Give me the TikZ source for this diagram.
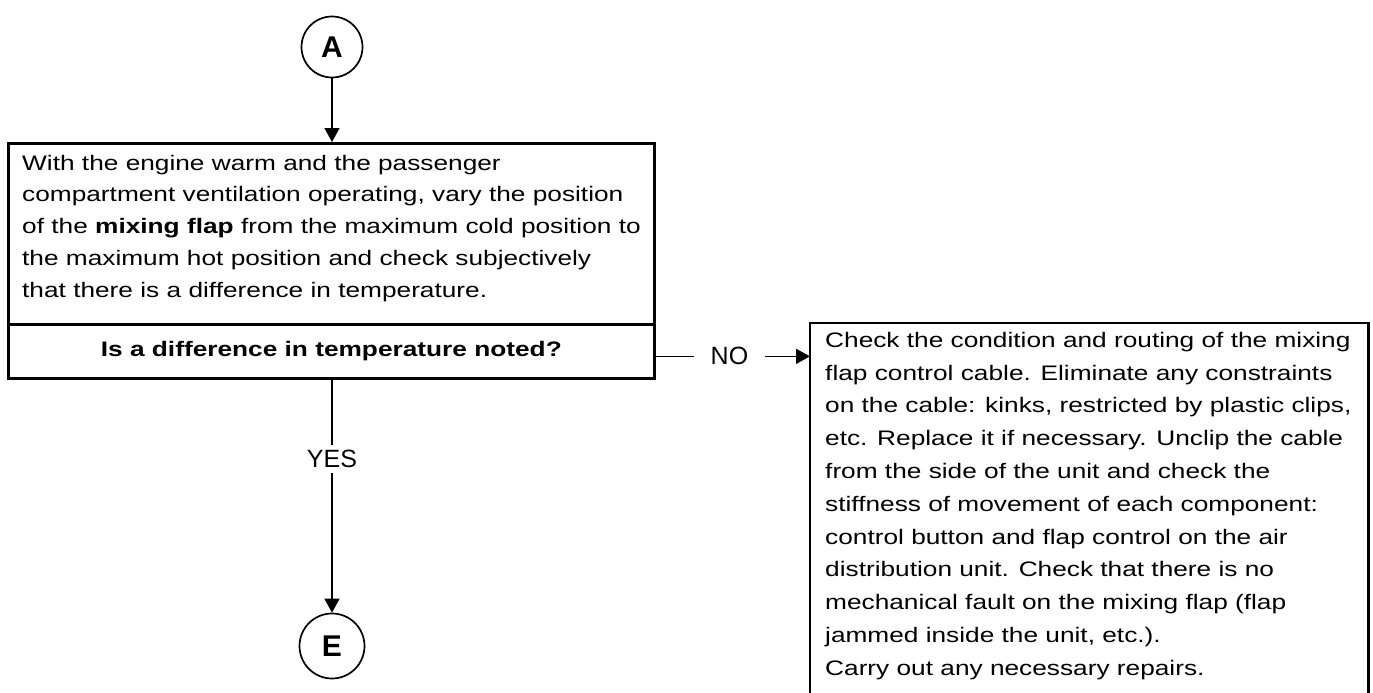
\documentclass[tikz,border=0pt]{standalone}
\usepackage{fontspec}
\setmainfont[FakeStretch=1.25]{Liberation Sans}
\newfontfamily\plainsans{Liberation Sans}
\usetikzlibrary{arrows.meta}
\begin{document}
\begin{tikzpicture}[x=1pt,y=-1pt,
  boxline/.style={draw=black, line width=2.7pt},
  stepbox/.style={boxline, rectangle, inner sep=0pt, anchor=north west},
  conn/.style={draw=black, line width=1.5pt, -{Triangle[length=14pt,width=15pt]}},
  circ/.style={circle, draw=black, line width=1.7pt, inner sep=0pt, font=\plainsans\fontsize{30}{30}\selectfont\bfseries},
  bodytext/.style={anchor=north west, inner sep=0pt, align=left},
  lbl/.style={fill=white, inner xsep=17pt, inner ysep=5pt, font=\plainsans\fontsize{25}{25}\selectfont}
]
\useasboundingbox (0,0) rectangle (1373,693);
\node[circ, minimum size=61pt] (A) at (332,47) {A};
\node[stepbox, minimum width=646pt, minimum height=181pt] (proc) at (7,142) {};
\node[bodytext, font=\fontsize{21}{31.75}\selectfont] (proctext) at (22,153) {\rule{0pt}{17pt}With the engine warm and the passenger\\compartment ventilation operating, vary the position\\of the \textbf{mixing flap} from the maximum cold position to\\the maximum hot position and check subjectively\\that there is a difference in temperature.};
\node[stepbox, minimum width=646pt, minimum height=54pt, font=\fontsize{21}{26}\selectfont\bfseries] (q) at (7,323) {Is a difference in temperature noted?};
\node[anchor=north west, inner sep=0pt, minimum width=558pt, minimum height=372pt] (fix) at (810,323) {};
\draw[boxline] (fix.south west) -- (fix.north west) -- (fix.north east) -- (fix.south east);
\node[bodytext, font=\fontsize{21}{32.8}\selectfont] (fixtext) at (825,330) {\rule{0pt}{17pt}Check the condition and routing of the mixing\\flap control cable. Eliminate any constraints\\on the cable: kinks, restricted by plastic clips,\\etc. Replace it if necessary. Unclip the cable\\from the side of the unit and check the\\stiffness of movement of each component:\\control button and flap control on the air\\distribution unit. Check that there is no\\mechanical fault on the mixing flap (flap\\jammed inside the unit, etc.).\\Carry out any necessary repairs.};
\node[circ, minimum size=65pt] (E) at (332,646) {E};
\draw[conn] (A) -- (A |- proc.north);
\draw[conn] (q.south -| E) -- node[lbl, pos=0.34] {YES} (E);
\draw[conn] ([yshift=-5pt]q.east) -- node[lbl, pos=0.478] {NO} ([yshift=-5pt]q.east -| fix.west);
\end{tikzpicture}
\end{document}
